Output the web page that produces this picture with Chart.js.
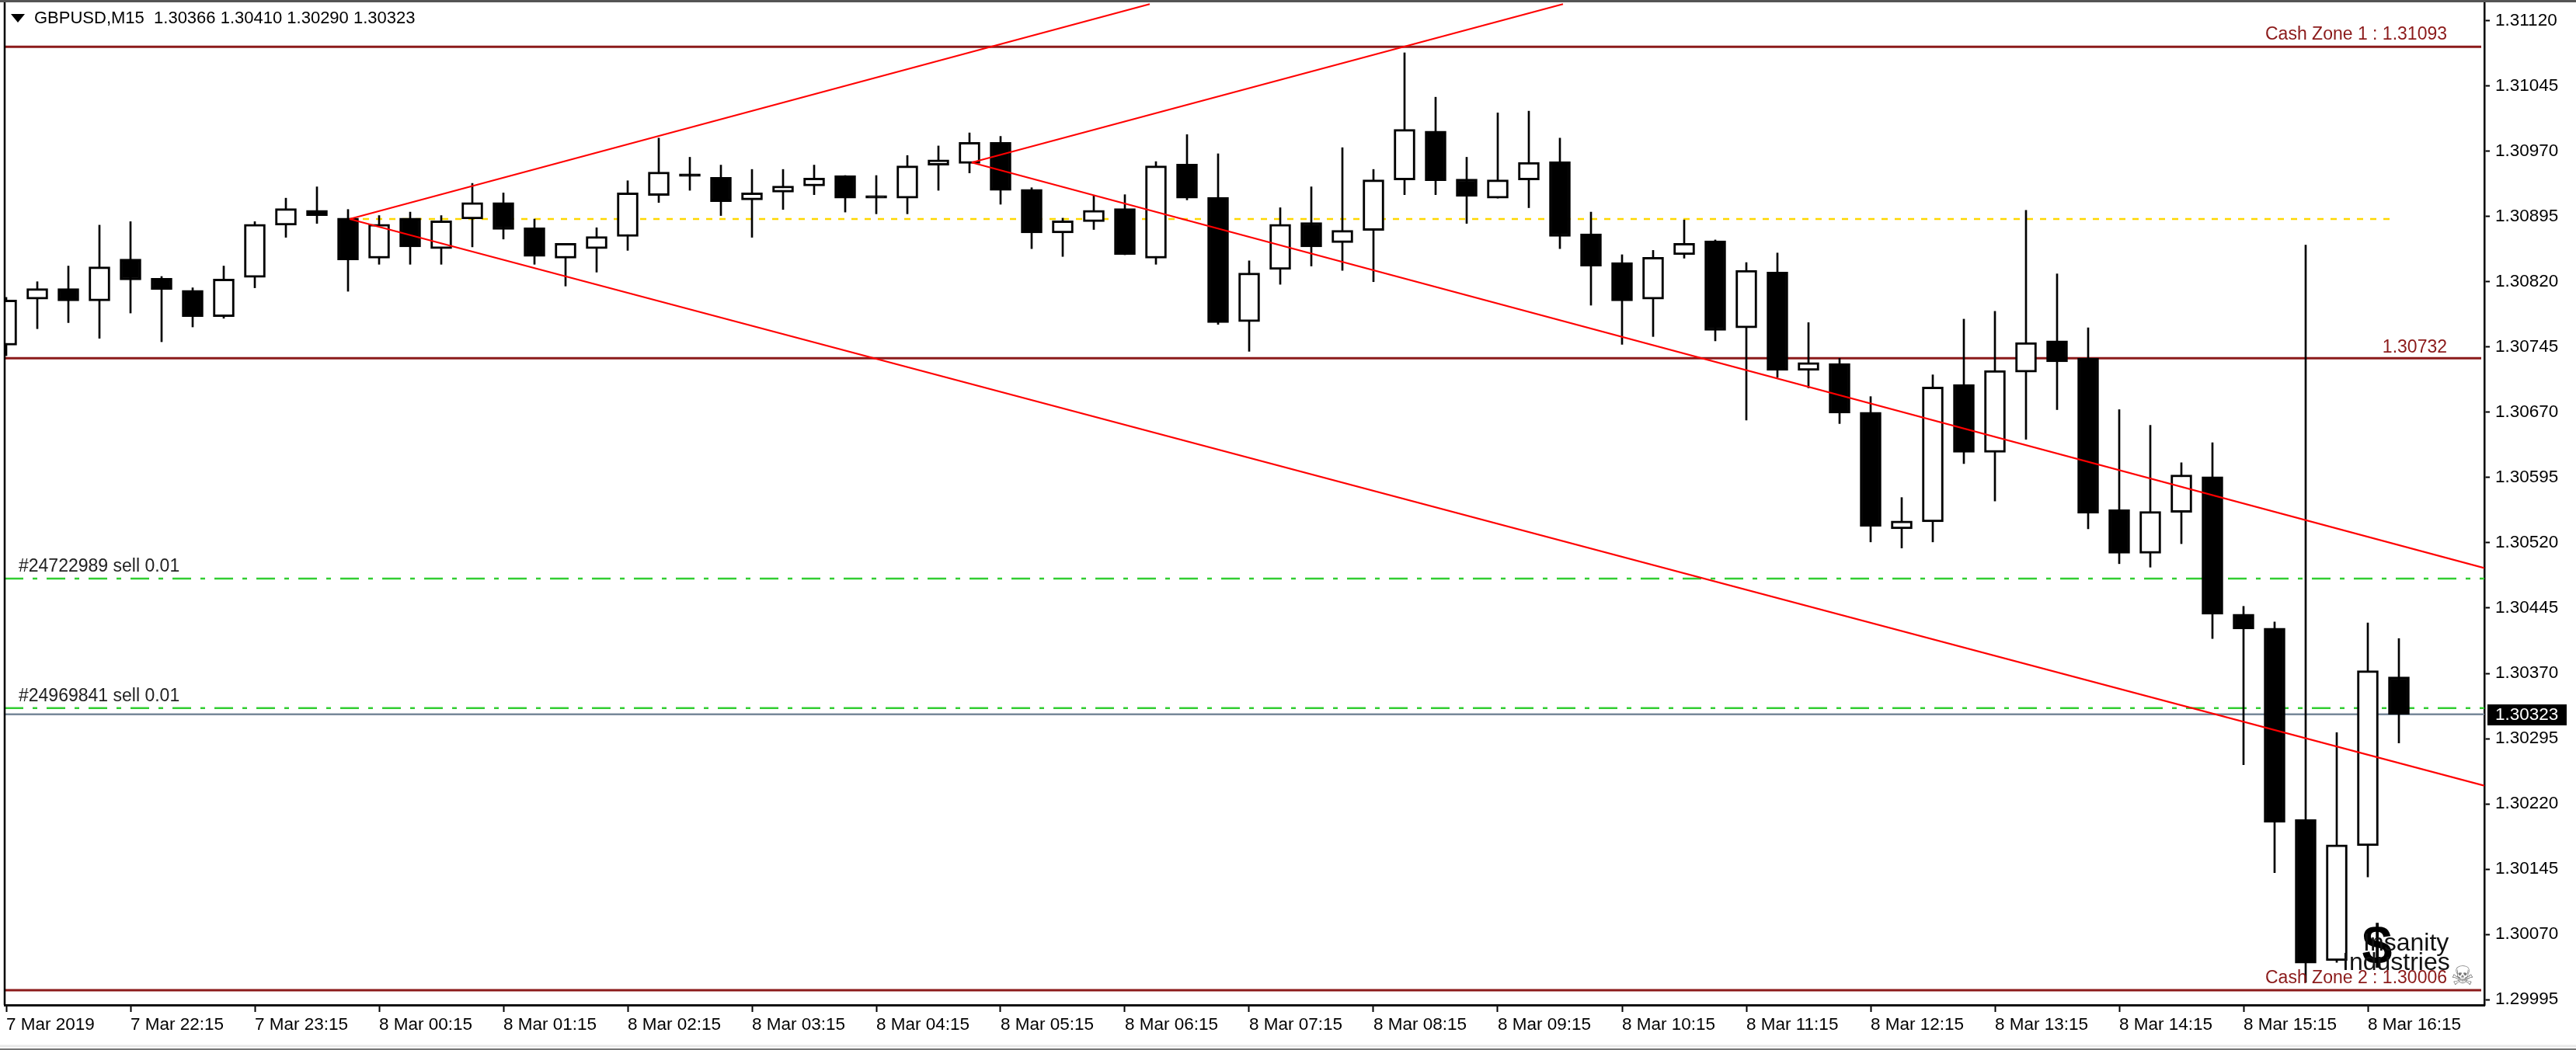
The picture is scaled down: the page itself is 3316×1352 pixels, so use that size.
<!DOCTYPE html>
<html>
<head>
<meta charset="utf-8">
<title>GBPUSD,M15</title>
<script src="https://cdn.jsdelivr.net/npm/chart.js@4"></script>
<style>
  html, body { margin: 0; padding: 0; background: #fff; }
  canvas { display: block; }
</style>
</head>
<body>
<canvas id="grafico" width="3316" height="1352"></canvas>
<script>
// =====================
// Datos
// =====================
const opens = [1.30747,1.30800,1.30812,1.30798,1.30846,1.30824,1.30810,1.30780,1.30825,1.30885,
  1.30902,1.30893,1.30847,1.30893,1.30858,1.30892,1.30911,1.30882,1.30847,1.30858,
  1.30872,1.30919,1.30944,1.30940,1.30914,1.30923,1.30930,1.30942,1.30919,1.30916,
  1.30954,1.30956,1.30980,1.30926,1.30876,1.30889,1.30904,1.30847,1.30955,1.30917,
  1.30774,1.30834,1.30888,1.30865,1.30879,1.30937,1.30993,1.30938,1.30916,1.30937,
  1.30958,1.30875,1.30842,1.30800,1.30851,1.30867,1.30767,1.30831,1.30718,1.30726,
  1.30670,1.30536,1.30544,1.30702,1.30624,1.30716,1.30752,1.30732,1.30558,1.30508,
  1.30555,1.30596,1.30438,1.30422,1.30202,1.30040,1.30172,1.30366];
const highs = [1.30802,1.30820,1.30838,1.30885,1.30889,1.30826,1.30813,1.30838,1.30889,1.30916,
  1.30929,1.30903,1.30896,1.30900,1.30896,1.30933,1.30922,1.30892,1.30864,1.30882,
  1.30936,1.30985,1.30963,1.30954,1.30949,1.30949,1.30954,1.30942,1.30942,1.30965,
  1.30976,1.30991,1.30987,1.30928,1.30893,1.30919,1.30920,1.30958,1.30989,1.30967,
  1.30844,1.30905,1.30929,1.30974,1.30949,1.31083,1.31032,1.30963,1.31014,1.31016,
  1.30985,1.30900,1.30851,1.30856,1.30891,1.30868,1.30842,1.30853,1.30773,1.30732,
  1.30688,1.30572,1.30713,1.30777,1.30786,1.30902,1.30829,1.30767,1.30673,1.30655,
  1.30612,1.30635,1.30447,1.30429,1.30862,1.30302,1.30428,1.30410];
const lows = [1.30735,1.30766,1.30773,1.30755,1.30784,1.30751,1.30768,1.30778,1.30813,1.30871,
  1.30887,1.30809,1.30840,1.30840,1.30840,1.30860,1.30869,1.30840,1.30815,1.30831,
  1.30856,1.30911,1.30925,1.30896,1.30871,1.30903,1.30920,1.30900,1.30898,1.30898,
  1.30925,1.30945,1.30909,1.30858,1.30849,1.30880,1.30851,1.30840,1.30914,1.30771,
  1.30740,1.30817,1.30838,1.30833,1.30820,1.30920,1.30920,1.30887,1.30916,1.30905,
  1.30858,1.30793,1.30748,1.30757,1.30847,1.30752,1.30661,1.30710,1.30698,1.30657,
  1.30521,1.30514,1.30521,1.30611,1.30568,1.30639,1.30673,1.30536,1.30496,1.30492,
  1.30519,1.30410,1.30265,1.30141,1.30015,1.30038,1.30136,1.30290];
const closes = [1.30799,1.30812,1.30798,1.30837,1.30822,1.30811,1.30780,1.30823,1.30886,1.30904,
  1.30896,1.30845,1.30886,1.30860,1.30890,1.30911,1.30880,1.30849,1.30864,1.30872,
  1.30922,1.30946,1.30941,1.30912,1.30922,1.30930,1.30939,1.30916,1.30916,1.30953,
  1.30960,1.30980,1.30925,1.30876,1.30890,1.30902,1.30851,1.30953,1.30916,1.30773,
  1.30830,1.30886,1.30860,1.30879,1.30937,1.30995,1.30936,1.30918,1.30937,1.30957,
  1.30872,1.30838,1.30798,1.30848,1.30864,1.30764,1.30833,1.30718,1.30727,1.30669,
  1.30539,1.30545,1.30699,1.30624,1.30718,1.30750,1.30728,1.30554,1.30508,1.30556,
  1.30598,1.30438,1.30421,1.30199,1.30037,1.30173,1.30373,1.30323];

const xTickLabels = ["7 Mar 2019","7 Mar 22:15","7 Mar 23:15","8 Mar 00:15","8 Mar 01:15",
  "8 Mar 02:15","8 Mar 03:15","8 Mar 04:15","8 Mar 05:15","8 Mar 06:15","8 Mar 07:15",
  "8 Mar 08:15","8 Mar 09:15","8 Mar 10:15","8 Mar 11:15","8 Mar 12:15","8 Mar 13:15",
  "8 Mar 14:15","8 Mar 15:15","8 Mar 16:15"];
const xTickBars = [0,4,8,12,16,20,24,28,32,36,40,44,48,52,56,60,64,68,72,76];
const yTicks = [1.31120,1.31045,1.30970,1.30895,1.30820,1.30745,1.30670,1.30595,
  1.30520,1.30445,1.30370,1.30295,1.30220,1.30145,1.30070,1.29995];

// lineas horizontales y tendencias
const cashZone1 = 1.31090;
const cashZone2 = 1.30006;
const nivelMedio = 1.30732;
const nivelAmarillo = 1.30892;
const venta1 = 1.30479;
const venta2 = 1.30330;
const precioActual = 1.30323;

const tendencia1 = [{x: 11.05, y: 1.30892}, {x: 36.8, y: 1.31139}];
const tendencia2 = [{x: 11.05, y: 1.30892}, {x: 79.75, y: 1.30241}];
const tendencia3 = [{x: 31.07, y: 1.30957}, {x: 50.1, y: 1.31139}];
const tendencia4 = [{x: 31.07, y: 1.30957}, {x: 79.75, y: 1.30491}];

const xMin = -0.05, xMax = 79.75;
const yMin = 1.29989, yMax = 1.31141;
const fuente = "'Liberation Sans', Arial, sans-serif";
const rojoOscuro = "#8b1a1a";

// =====================
// Funciones auxiliares
// =====================
function linea(datos, color, ancho, orden, guiones) {
  return {
    type: "line",
    data: datos,
    borderColor: color,
    borderWidth: ancho,
    borderDash: guiones || [],
    pointRadius: 0,
    tension: 0,
    order: orden
  };
}

function horizontal(valor, desde, hasta, color, ancho, guiones) {
  return linea([{x: desde, y: valor}, {x: hasta, y: valor}], color, ancho, 5, guiones);
}

function texto(ctx, cadena, x, y, color, font, align) {
  ctx.fillStyle = color;
  ctx.font = font;
  ctx.textAlign = align || "left";
  ctx.textBaseline = "middle";
  ctx.fillText(cadena, x, y);
}

// quitar el margen que Chart.js reserva para media etiqueta
function sinMargen(s) {
  s.paddingTop = 0;
  s.paddingBottom = 0;
  s.paddingLeft = 0;
  s.paddingRight = 0;
}

// marcos y textos que van encima de las velas
const extras = {
  id: "extras",
  afterDraw(chart) {
    const ctx = chart.ctx;
    const a = chart.chartArea;
    ctx.save();

    // marco
    ctx.strokeStyle = "#000";
    ctx.lineWidth = 2.5;
    ctx.beginPath();
    ctx.moveTo(a.left, a.top);
    ctx.lineTo(a.left, a.bottom);
    ctx.stroke();
    ctx.strokeStyle = "#555";
    ctx.lineWidth = 3;
    ctx.beginPath();
    ctx.moveTo(0, 1.5);
    ctx.lineTo(3316, 1.5);
    ctx.stroke();
    ctx.strokeStyle = "#e8e8e8";
    ctx.beginPath();
    ctx.moveTo(0, 1347);
    ctx.lineTo(3316, 1347);
    ctx.stroke();
    ctx.strokeStyle = "#777";
    ctx.lineWidth = 2;
    ctx.beginPath();
    ctx.moveTo(0, 1351);
    ctx.lineTo(3316, 1351);
    ctx.stroke();

    // cabecera
    ctx.fillStyle = "#000";
    ctx.beginPath();
    ctx.moveTo(14, 18);
    ctx.lineTo(32, 18);
    ctx.lineTo(23, 29);
    ctx.closePath();
    ctx.fill();
    texto(ctx, "GBPUSD,M15  1.30366 1.30410 1.30290 1.30323", 44, 24, "#000", "22px " + fuente);

    // etiquetas de niveles
    const f = "23px " + fuente;
    texto(ctx, "Cash Zone 1 : 1.31093", 3150, 45, rojoOscuro, f, "right");
    texto(ctx, "1.30732", 3150, 448, rojoOscuro, f, "right");
    texto(ctx, "#24722989 sell 0.01", 24, 730, "#222", f);
    texto(ctx, "#24969841 sell 0.01", 24, 897, "#222", f);

    // precio actual
    ctx.fillStyle = "#000";
    ctx.fillRect(3202, 907, 102, 27);
    texto(ctx, "1.30323", 3212, 921, "#fff", "22.5px " + fuente);

    // marca de agua
    texto(ctx, "$", 3060, 1222, "#000", "bold 70px " + fuente, "center");
    texto(ctx, "Insanity", 3042, 1215, "#111", "32px " + fuente);
    texto(ctx, "Industries", 3015, 1240, "#111", "32px " + fuente);
    texto(ctx, "Cash Zone 2 : 1.30006", 3150, 1260, rojoOscuro, f, "right");
    texto(ctx, "\u2620", 3170, 1259, "#777", "34px 'DejaVu Sans'", "center");
    ctx.restore();
  }
};

// =====================
// Grafico
// =====================
const barras = opens.map((_, i) => i);

new Chart(document.getElementById("grafico"), {
  type: "bar",
  data: {
    datasets: [
      horizontal(cashZone1, xMin, 79.65, rojoOscuro, 3),
      horizontal(nivelMedio, xMin, 79.65, rojoOscuro, 3),
      horizontal(cashZone2, xMin, 79.65, rojoOscuro, 3),
      horizontal(nivelAmarillo, 11.05, 76.8, "#ffd700", 2.5, [8, 9]),
      horizontal(venta1, xMin, xMax, "#32cd32", 2.5, [24, 12, 6, 12]),
      horizontal(venta2, xMin, xMax, "#32cd32", 2.5, [24, 12, 6, 12]),
      horizontal(precioActual, xMin, xMax, "#778899", 2.5),
      {
        data: barras.map(i => ({x: i, y: [lows[i], highs[i]]})),
        backgroundColor: "#000",
        barThickness: 2,
        grouped: false,
        borderSkipped: false,
        order: 3
      },
      {
        data: barras.map(i => ({x: i, y: [opens[i], closes[i]]})),
        backgroundColor: barras.map(i => closes[i] > opens[i] ? "#fff" : "#000"),
        borderColor: "#000",
        borderWidth: 3,
        barThickness: 27,
        grouped: false,
        borderSkipped: false,
        order: 2
      },
      linea(tendencia1, "#ff0000", 2.2, 1),
      linea(tendencia2, "#ff0000", 2.2, 1),
      linea(tendencia3, "#ff0000", 2.2, 1),
      linea(tendencia4, "#ff0000", 2.2, 1)
    ]
  },
  options: {
    responsive: false,
    animation: false,
    devicePixelRatio: 1,
    layout: { padding: { top: 3, left: 6, right: 0, bottom: 0 } },
    plugins: { legend: { display: false }, tooltip: { enabled: false }, title: { display: false } },
    scales: {
      x: {
        type: "linear",
        offset: false,
        min: xMin,
        max: xMax,
        grid: { offset: false, drawOnChartArea: false, tickLength: 9, tickColor: "#000", tickWidth: 2 },
        border: { color: "#111", width: 3 },
        afterBuildTicks: s => { s.ticks = xTickBars.map(v => ({value: v})); },
        afterFit: s => { s.height = 58; sinMargen(s); },
        ticks: {
          autoSkip: false,
          maxRotation: 0,
          align: "start",
          padding: 3,
          color: "#000",
          font: { family: fuente, size: 22.5 },
          callback: (v, i) => xTickLabels[i]
        }
      },
      y: {
        position: "right",
        min: yMin,
        max: yMax,
        beginAtZero: false,
        grid: { drawOnChartArea: false, tickLength: 7, tickColor: "#000", tickWidth: 2 },
        border: { color: "#000", width: 2.5 },
        afterBuildTicks: s => { s.ticks = yTicks.map(v => ({value: v})); },
        afterFit: s => { s.width = 118; sinMargen(s); },
        ticks: {
          autoSkip: false,
          padding: 7,
          color: "#000",
          font: { family: fuente, size: 22.5 },
          callback: v => v.toFixed(5)
        }
      }
    }
  },
  plugins: [extras]
});
</script>
</body>
</html>
